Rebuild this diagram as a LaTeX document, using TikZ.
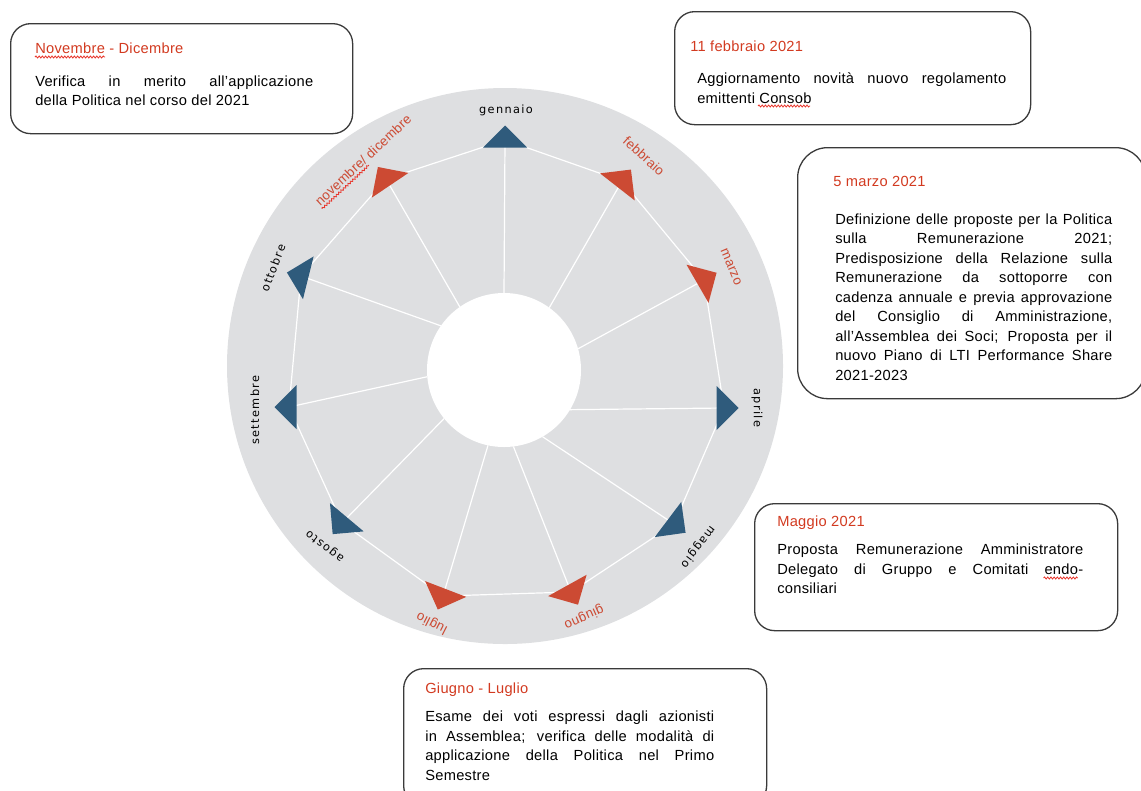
\documentclass[tikz,border=0pt]{standalone}
\usepackage{fontspec}
\setmainfont[LetterSpace=2]{Liberation Sans}
\newfontfamily\monthfont[LetterSpace=12]{DejaVu Sans}
\usepackage{xcolor}
\usetikzlibrary{calc, positioning, decorations.pathmorphing}

\definecolor{diskgray}{HTML}{DEDFE1}
\definecolor{triblue}{HTML}{2F5B7C}
\definecolor{triorange}{HTML}{CC4A33}
\definecolor{titlered}{HTML}{D23A20}
\definecolor{squig}{HTML}{E8352B}
\definecolor{boxline}{HTML}{3A3A3A}

\newdimen\px \px=0.75pt
\setlength\parindent{0pt}

\newcommand\notehead[2]{{\color{titlered}#1}\par\vspace{#2}}

\begin{document}
\begin{tikzpicture}[x=\px, y=-\px,
		spoke/.style={white, line width=1.2\px},
		bluelab/.style={font=\monthfont\fontsize{8.5}{10}\selectfont, inner sep=0pt},
		orangelab/.style={font=\fontsize{10}{12}\selectfont, text=triorange, inner sep=0pt},
		notebox/.style={draw=boxline, line width=1.3\px, rounded corners=20\px, anchor=north west, inner sep=0pt},
		notetext/.style={inner sep=0pt, align=justify, font=\fontsize{11}{14.6}\selectfont},
		spellchk/.style={squig, line width=0.8\px, decorate, decoration={snake, amplitude=1\px, segment length=3.2\px}},
		pics/monthtri/.style={code={\fill[#1] (-7.5,-22) -- (14.5,0) -- (-7.5,22) -- cycle;}}]

	\useasboundingbox (0,0) rectangle (1141,790);
	\clip (0,0) rectangle (1141,790);

	\fill[diskgray] (505,366) circle (278);
	\fill[white] (504,370) circle (77);
	\coordinate (hub) at (504,370);

	\coordinate (gen) at (505,140);
	\coordinate (feb) at (622,181);
	\coordinate (mar) at (704,280);
	\coordinate (apr) at (724,408);
	\coordinate (mag) at (674,524);
	\coordinate (giu) at (571,592);
	\coordinate (lug) at (443,596);
	\coordinate (ago) at (342,523);
	\coordinate (set) at (289,407);
	\coordinate (ott) at (301,276);
	\coordinate (nov) at (386,179);

	\draw[spoke] (gen) -- (feb) -- (mar) -- (apr) -- (mag) -- (giu) -- (lug) -- (ago) -- (set) -- (ott) -- (nov) -- cycle;

	\foreach \m/\a in {gen/90, feb/54, mar/16, apr/-31, mag/-60, giu/-83, lug/-102, ago/-141, set/-175, ott/145, nov/125}
	{
		\draw[spoke] (\m) -- ($(hub)+(-\a:77)$);
	}

	\foreach \m/\r/\c in {gen/90/triblue, feb/52/triorange, mar/30/triorange, apr/0/triblue, mag/-37/triblue, giu/-61/triorange, lug/-111/triorange, ago/-130/triblue, set/180/triblue, ott/166/triblue, nov/124/triorange}
	{
		\pic[rotate=\r] at (\m) {monthtri=\c};
	}

	\node[bluelab] (lgen) at (506,110) {gennaio};
	\node[orangelab, rotate=-42] (lfeb) at (644,156) {febbraio};
	\node[orangelab, rotate=-67] (lmar) at (731,267) {marzo};
	\node[bluelab, rotate=-90] (lapr) at (757,408) {aprile};
	\node[bluelab, rotate=-127] (lmag) at (698,547) {maggio};
	\node[orangelab, rotate=-156] (lgiu) at (584,617) {giugno};
	\node[orangelab, rotate=153] (llug) at (432,623) {luglio};
	\node[bluelab, rotate=142] (lago) at (325,546) {agosto};
	\node[bluelab, rotate=90] (lset) at (255,410) {settembre};
	\node[bluelab, rotate=69] (lott) at (273,268) {ottobre};
	\node[orangelab, rotate=43] (lnov) at (363,160) {novembre/ dicembre};

	\begin{scope}[shift={(lnov.base west)}, rotate=43]
		\draw[spellchk] (0,3) -- (64,3);
	\end{scope}

	\node[notebox, minimum width=342\px, minimum height=110\px] (ndbox) at (10,23) {};
	\node[notetext, text width=278\px, below right=20\px and 25\px of ndbox.north west] (ndtext)
		{\notehead{Novembre - Dicembre}{13\px}Verifica in merito all'applicazione\linebreak della Politica nel corso del 2021};
	\draw[spellchk] ([shift={(0,14)}]ndtext.north west) -- ++(70,0);

	\node[notebox, minimum width=356\px, minimum height=113\px] (febbox) at (674,11) {};
	\node[notetext, text width=309\px, below right=30\px and 23\px of febbox.north west] (febtext)
		{\notehead{\hspace*{-7\px}11 febbraio 2021}{12.5\px}Aggiornamento novità nuovo regolamento\linebreak emittenti Consob};
	\draw[spellchk] ([shift={(61,65)}]febtext.north west) -- ++(52,0);

	\node[notebox, rounded corners=30\px, minimum width=348\px, minimum height=251\px] (marbox) at (797,147) {};
	\node[notetext, text width=277\px, below right=29\px and 38\px of marbox.north west] (martext)
		{\notehead{\hspace*{-2\px}5 marzo 2021}{18.5\px}Definizione delle proposte per la Politica\linebreak sulla Remunerazione 2021;\linebreak Predisposizione della Relazione sulla\linebreak Remunerazione da sottoporre con\linebreak cadenza annuale e previa approvazione\linebreak del Consiglio di Amministrazione,\linebreak all'Assemblea dei Soci; Proposta per il\linebreak nuovo Piano di LTI Performance Share\linebreak 2021-2023};

	\node[notebox, minimum width=363\px, minimum height=127\px] (magbox) at (754,503) {};
	\node[notetext, text width=306\px, below right=13\px and 23\px of magbox.north west] (magtext)
		{\notehead{Maggio 2021}{8.5\px}Proposta Remunerazione Amministratore\linebreak Delegato di Gruppo e Comitati endo-\linebreak consiliari};
	\draw[spellchk] ([shift={(-40,62)}]magtext.north east) -- ++(34,0);

	\node[notebox, minimum width=363\px, minimum height=137\px] (giubox) at (403,668) {};
	\node[notetext, text width=289\px, below right=15\px and 22\px of giubox.north west] (giutext)
		{\notehead{Giugno - Luglio}{8.5\px}Esame dei voti espressi dagli azionisti\linebreak in Assemblea; verifica delle modalità di\linebreak applicazione della Politica nel Primo\linebreak Semestre};
\end{tikzpicture}
\end{document}
